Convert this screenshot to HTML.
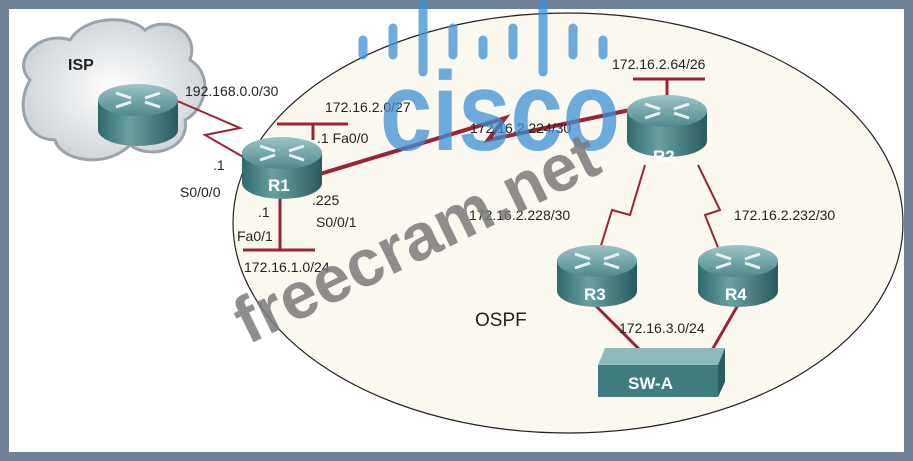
<!DOCTYPE html>
<html><head><meta charset="utf-8"><style>
html,body{margin:0;padding:0;background:#6e8196;}
svg{display:block;font-family:"Liberation Sans",sans-serif;}
</style></head><body>
<svg width="913" height="461" viewBox="0 0 913 461" xmlns="http://www.w3.org/2000/svg">
<defs>
<linearGradient id="rb" x1="0" y1="0" x2="1" y2="0">
<stop offset="0" stop-color="#2f6a6e"/><stop offset="0.4" stop-color="#6aa0a2"/><stop offset="1" stop-color="#285a5e"/></linearGradient>
<linearGradient id="rt" x1="0" y1="0" x2="0" y2="1">
<stop offset="0" stop-color="#9cc4c6"/><stop offset="1" stop-color="#4e8a8e"/></linearGradient>
<radialGradient id="cl" cx="0.5" cy="0.5" r="0.6"><stop offset="0" stop-color="#ffffff"/><stop offset="1" stop-color="#c9ced3"/></radialGradient>
<g id="router">
<path d="M-40,-12 L-40,18 A40,16 0 0 0 40,18 L40,-12 Z" fill="url(#rb)"/>
<ellipse cx="0" cy="-12" rx="40" ry="16" fill="url(#rt)"/>
<g stroke="#e8f2f2" stroke-width="3">
<line x1="-22" y1="-19" x2="-7" y2="-14"/><line x1="22" y1="-19" x2="7" y2="-14"/>
<line x1="-22" y1="-5" x2="-7" y2="-10"/><line x1="22" y1="-5" x2="7" y2="-10"/></g>
</g>
</defs>
<rect x="9" y="9" width="895" height="443" fill="#ffffff"/>
<ellipse cx="568" cy="223" rx="335" ry="210" fill="#fbf9ef" stroke="#222" stroke-width="1.2"/>
<!-- cloud -->
<path d="M30,80 C10,60 40,30 70,40 C85,15 130,15 145,30 C165,15 200,30 190,60 C215,75 205,110 185,120 C190,150 150,160 130,145 C105,170 60,160 55,140 C25,140 15,105 30,80 Z" fill="url(#cl)" stroke="#9aa3ab" stroke-width="3"/>
<!-- links -->
<g stroke="#9b2335" fill="none">
<polyline points="175,100 240,128 205,135 245,158" stroke-width="2"/>
<polyline points="310,177 505,118 488,140 630,110" stroke-width="4"/>
<polyline points="645,165 630,215 612,210 595,265" stroke-width="2"/>
<polyline points="698,165 720,210 705,215 725,265" stroke-width="2"/>
<line x1="595" y1="305" x2="640" y2="350" stroke-width="3"/>
<line x1="738" y1="305" x2="712" y2="350" stroke-width="3"/>
<line x1="277" y1="124" x2="348" y2="124" stroke-width="3"/><line x1="313" y1="124" x2="313" y2="140" stroke-width="3"/>
<line x1="280" y1="195" x2="280" y2="250" stroke-width="3"/><line x1="243" y1="250" x2="315" y2="250" stroke-width="3"/>
<line x1="633" y1="79" x2="705" y2="79" stroke-width="3"/><line x1="667" y1="79" x2="667" y2="103" stroke-width="3"/>
</g>
<use href="#router" x="138" y="112"/>
<use href="#router" x="282" y="165"/>
<use href="#router" x="667" y="123"/>
<use href="#router" x="597" y="273"/>
<use href="#router" x="738" y="273"/>
<!-- switch -->
<path d="M605,348 L725,348 L718,365 L598,365 Z" fill="#8fbabc"/>
<rect x="598" y="365" width="120" height="32" fill="#3f7c80"/>
<path d="M725,348 L725,382 L718,397 L718,365 Z" fill="#2a5c60"/>
<g fill="#fff" font-weight="bold">
<text x="268" y="191" font-size="17">R1</text>
<text x="653" y="162" font-size="17">R2</text>
<text x="584" y="300" font-size="17">R3</text>
<text x="725" y="300" font-size="17">R4</text>
<text x="628" y="389" font-size="17">SW-A</text></g>
<g fill="#222" font-size="14">
<text x="68" y="70" font-weight="bold" font-size="16">ISP</text>
<text x="185" y="96">192.168.0.0/30</text>
<text x="325" y="112">172.16.2.0/27</text>
<text x="317" y="143">.1  Fa0/0</text>
<text x="213" y="170">.1</text>
<text x="180" y="197">S0/0/0</text>
<text x="312" y="205">.225</text>
<text x="316" y="227">S0/0/1</text>
<text x="258" y="217">.1</text>
<text x="237" y="241">Fa0/1</text>
<text x="244" y="272">172.16.1.0/24</text>
<text x="470" y="133">172.16.2.224/30</text>
<text x="612" y="69">172.16.2.64/26</text>
<text x="469" y="220">172.16.2.228/30</text>
<text x="734" y="220">172.16.2.232/30</text>
<text x="619" y="333">172.16.3.0/24</text>
<text x="475" y="326" font-size="19">OSPF</text></g>
<!-- watermark cisco -->
<g stroke="#3d8fd6" stroke-opacity="0.75" stroke-width="9" stroke-linecap="round">
<line x1="363" y1="40" x2="363" y2="55"/><line x1="393" y1="28" x2="393" y2="55"/>
<line x1="423" y1="4" x2="423" y2="72"/><line x1="453" y1="28" x2="453" y2="55"/>
<line x1="483" y1="40" x2="483" y2="55"/><line x1="513" y1="28" x2="513" y2="55"/>
<line x1="543" y1="4" x2="543" y2="72"/><line x1="573" y1="28" x2="573" y2="55"/>
<line x1="603" y1="40" x2="603" y2="55"/></g>
<text x="380" y="150" font-size="112" font-weight="bold" fill="#3d8fd6" fill-opacity="0.75" textLength="240" lengthAdjust="spacingAndGlyphs">cisco</text>
<text x="0" y="0" font-size="66" font-weight="bold" fill="#7a7a7a" fill-opacity="0.85" transform="translate(248,345) rotate(-26)">freecram.net</text>
</svg>
</body></html>
